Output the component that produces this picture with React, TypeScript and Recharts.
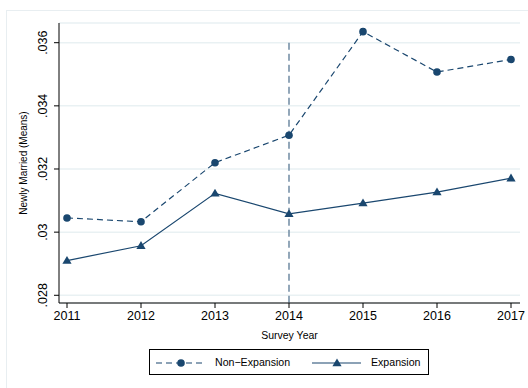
import React from 'react';
import { LineChart, Line, XAxis, YAxis, CartesianGrid, ReferenceLine } from 'recharts';

const years = [2011, 2012, 2013, 2014, 2015, 2016, 2017];
const nonExpansion = [0.03045, 0.03033, 0.0322, 0.03307, 0.03635, 0.03507, 0.03547];
const expansion = [0.0291, 0.02957, 0.03123, 0.03058, 0.03092, 0.03127, 0.03171];
const yTicks = [0.028, 0.03, 0.032, 0.034, 0.036];
const seriesNames = ['Non\u2212Expansion', 'Expansion'];
const policyYear = 2014;

const data = years.map((y, i) => ({ year: y, non: nonExpansion[i], exp: expansion[i] }));

const NAVY = '#1a476f';
const FONT = '"Liberation Sans", Arial, Helvetica, sans-serif';

const fmtY = (v: number) => {
  const s = String(Number(v.toFixed(3)));
  return s.replace(/^0\./, '.');
};

const YTick = (props: any) => {
  const { x, y, payload } = props;
  const tx = x - 5;
  return (
    <text x={tx} y={y} transform={`rotate(-90, ${tx}, ${y})`} textAnchor="middle" fontSize={12.5} fontFamily={FONT} fill="#000">
      {fmtY(payload.value)}
    </text>
  );
};

const Circle = (props: any) => {
  const { cx, cy, index } = props;
  if (cx == null || cy == null) return <g key={`c${index}`} />;
  return <circle key={`c${index}`} cx={cx} cy={cy} r={3.8} fill={NAVY} stroke="none" />;
};

const Tri = (props: any) => {
  const { cx, cy, index } = props;
  if (cx == null || cy == null) return <g key={`t${index}`} />;
  const s = 4.6;
  const pts = `${cx},${cy - s} ${cx - s},${cy + s * 0.7} ${cx + s},${cy + s * 0.7}`;
  return <polygon key={`t${index}`} points={pts} fill={NAVY} stroke="none" />;
};

export default function App() {
  return (
    <div style={{ position: 'absolute', left: 0, top: 0, width: 528, height: 388, background: '#fff', overflow: 'hidden' }}>
      <div style={{ position: 'absolute', left: 6, top: 10, width: 540, height: 400, border: '1px solid #e8eef1', boxSizing: 'border-box' }} />
      <div style={{ position: 'absolute', left: 0, top: 0 }}>
        <LineChart width={528} height={388} data={data} margin={{ top: 23, right: 8, bottom: 55, left: 0 }}>
          <CartesianGrid horizontal vertical={false} stroke="#e9f1f3" strokeWidth={1.5} />
          <XAxis
            dataKey="year"
            type="number"
            domain={[2011, 2017]}
            ticks={years}
            padding={{ left: 8, right: 9 }}
            axisLine={{ stroke: '#000', strokeWidth: 1 }}
            tickLine={{ stroke: '#000' }}
            tickSize={5}
            tickMargin={3}
            tick={{ fontSize: 12.5, fontFamily: FONT, fill: '#000' }}
            height={30}
            label={{ value: 'Survey Year', position: 'bottom', offset: -1, fontSize: 10.5, fontFamily: FONT, fill: '#000' }}
          />
          <YAxis
            type="number"
            domain={[0.027756, 0.036624]}
            ticks={yTicks}
            width={59}
            axisLine={{ stroke: '#000', strokeWidth: 1 }}
            tickLine={{ stroke: '#000' }}
            tickSize={5}
            tick={<YTick />}
            allowDataOverflow
            label={{
              content: (p: any) => {
                const vb = p.viewBox || {};
                const cx = 23;
                const cy = (vb.y ?? 23) + (vb.height ?? 280) / 2;
                return (
                  <text x={cx} y={cy} transform={`rotate(-90, ${cx}, ${cy})`} textAnchor="middle" dominantBaseline="central" fontSize={10} fontFamily={FONT} fill="#000">
                    Newly Married (Means)
                  </text>
                );
              },
            }}
          />
          <ReferenceLine
            segment={[{ x: policyYear, y: yTicks[yTicks.length - 1] }, { x: policyYear, y: 0.027756 }]}
            stroke="#7892a8"
            strokeWidth={1.6}
            strokeDasharray="7 4"
            ifOverflow="visible"
          />
          <Line
            dataKey="non"
            stroke={NAVY}
            strokeWidth={1.2}
            strokeDasharray="6 4"
            dot={Circle}
            activeDot={false}
            isAnimationActive={false}
          />
          <Line
            dataKey="exp"
            stroke={NAVY}
            strokeWidth={1.2}
            dot={Tri}
            activeDot={false}
            isAnimationActive={false}
          />
        </LineChart>
      </div>
      <div style={{ position: 'absolute', left: 149, top: 349, width: 280, height: 26, border: '1px solid #000', boxSizing: 'border-box', fontFamily: FONT, fontSize: 10.6, color: '#000' }}>
        <svg width={278} height={24} style={{ position: 'absolute', left: 0, top: 0 }}>
          <line x1={6} y1={13} x2={54} y2={13} stroke={NAVY} strokeWidth={1.2} strokeDasharray="6 4" />
          <circle cx={31} cy={13} r={3.8} fill={NAVY} />
          <line x1={162} y1={13} x2={211} y2={13} stroke={NAVY} strokeWidth={1.2} />
          <polygon points={`187,${13 - 4.6} ${187 - 4.6},${13 + 3.2} ${187 + 4.6},${13 + 3.2}`} fill={NAVY} />
        </svg>
        <span style={{ position: 'absolute', left: 65, top: 5, lineHeight: '14px' }}>{seriesNames[0]}</span>
        <span style={{ position: 'absolute', left: 221, top: 5, lineHeight: '14px' }}>{seriesNames[1]}</span>
      </div>
    </div>
  );
}
